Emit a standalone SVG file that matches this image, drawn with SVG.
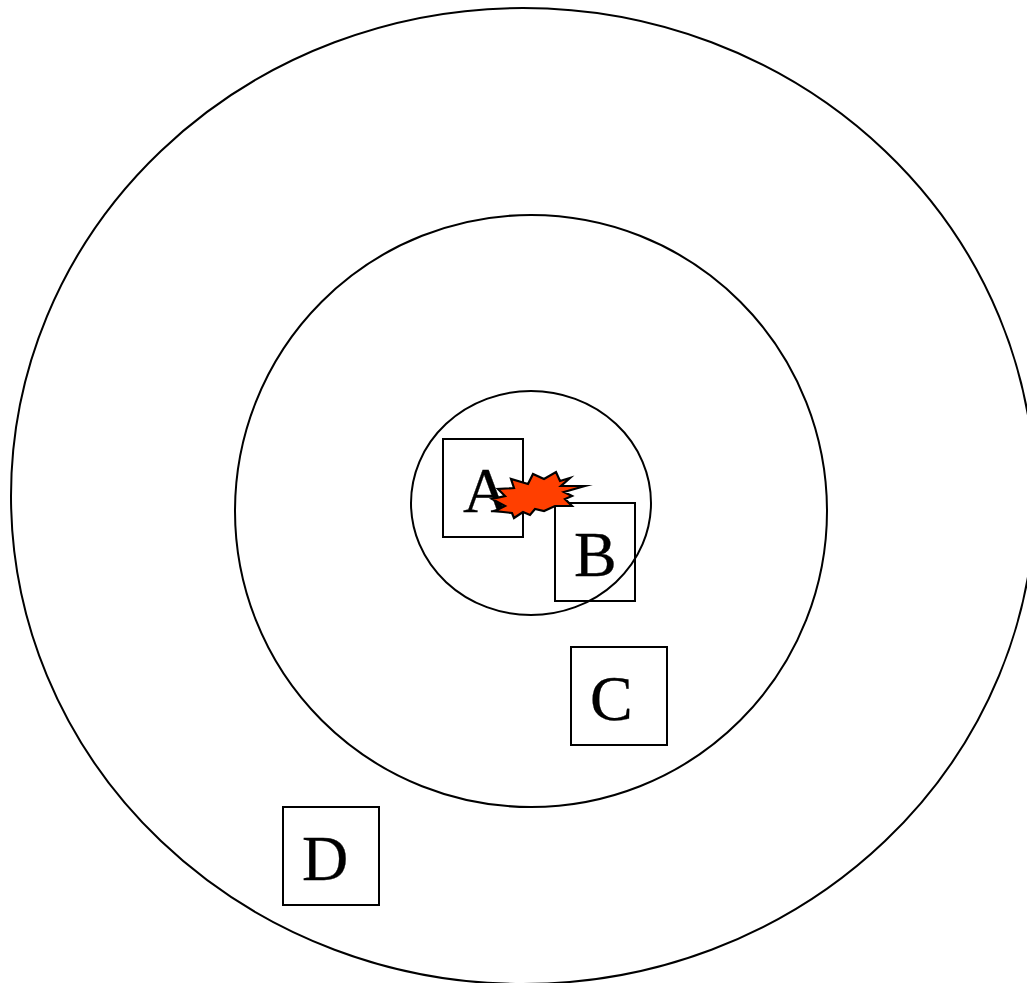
<svg xmlns="http://www.w3.org/2000/svg" width="1027" height="983" viewBox="0 0 1027 983">
<style>
.s{fill:none;stroke:#000;stroke-width:2}
.t{font-family:"Liberation Serif","Times New Roman",serif;font-size:64px;fill:#000;stroke:#000;stroke-width:.3}
</style>
<rect width="1027" height="983" fill="#fff"/>
<g id="outer-circle"><ellipse class="s" cx="523" cy="496" rx="512" ry="488"/></g>
<g id="middle-circle"><circle class="s" cx="531" cy="511" r="296"/></g>
<g id="inner-circle"><ellipse class="s" cx="531" cy="503" rx="120" ry="112"/></g>
<g id="node-a"><rect class="s" x="443" y="439" width="80" height="98"/><text class="t" x="463" y="512">A</text></g>
<g id="node-b"><rect class="s" x="555" y="503" width="80" height="98"/><text class="t" x="574" y="576">B</text></g>
<g id="node-c"><rect class="s" x="571" y="647" width="96" height="98"/><text class="t" x="590" y="720">C</text></g>
<g id="node-d"><rect class="s" x="283" y="807" width="96" height="98"/><text class="t" x="302" y="880">D</text></g>
<g id="burst"><polygon points="585,486 564,492 572,496 565,499 572,506 555,506 544,511 535,509 530,515 523,512 514,518 512,513 495,511 505,506 492,499 505,496 498,489 514,488 511,479 528,484 533,474 544,479 556,472 560,481 570,478 561,486" fill="#ff3f00" stroke="#000" stroke-width="2.2" stroke-miterlimit="8"/></g>
</svg>
